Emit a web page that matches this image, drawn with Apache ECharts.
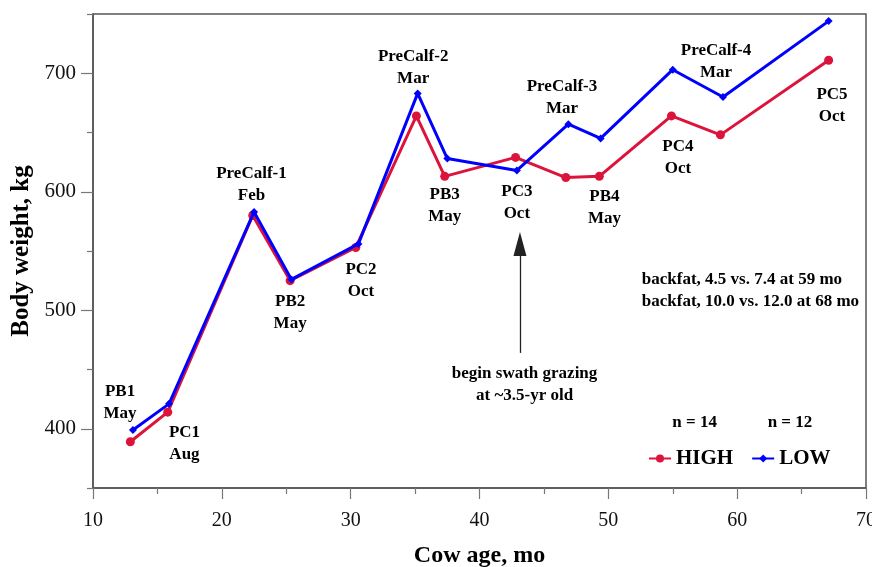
<!DOCTYPE html>
<html>
<head>
<meta charset="utf-8">
<script src="https://cdn.jsdelivr.net/npm/echarts@6/dist/echarts.min.js"></script>
<style>html,body{margin:0;padding:0;background:#fff;}#c{width:872px;height:567px;}</style>
</head>
<body>
<div id="c"></div>
<script>
// ---- data ----
const ageHigh = [12.9, 15.8, 22.4, 25.3, 30.4, 35.1, 37.3, 42.8, 46.7, 49.3, 54.9, 58.7, 67.1];
const wtHigh  = [389, 414, 580, 525, 553, 664, 613, 629, 612, 613, 664, 648, 711];
const ageLow  = [13.1, 15.9, 22.5, 25.4, 30.6, 35.2, 37.5, 42.9, 46.9, 49.4, 55.0, 58.9, 67.1];
const wtLow   = [399, 421, 583, 526, 556, 683, 628, 618, 657, 645, 703, 680, 744];
const xMajorTicks = [10, 20, 30, 40, 50, 60, 70];
const xMinorTicks = [15, 25, 35, 45, 55, 65];
const yMajorTicks = [400, 500, 600, 700];
const yMinorTicks = [350, 450, 550, 650, 750];
// event labels: [age, weight, text]
const eventLabels = [
  [12.1, 422, 'PB1\nMay'],
  [17.1, 387.6, 'PC1\nAug'],
  [22.3, 606, 'PreCalf-1\nFeb'],
  [25.3, 498, 'PB2\nMay'],
  [30.8, 525, 'PC2\nOct'],
  [34.85, 704.7, 'PreCalf-2\nMar'],
  [37.3, 588, 'PB3\nMay'],
  [42.9, 590.7, 'PC3\nOct'],
  [46.4, 679.5, 'PreCalf-3\nMar'],
  [49.7, 587, 'PB4\nMay'],
  [55.4, 628.6, 'PC4\nOct'],
  [58.36, 710, 'PreCalf-4\nMar'],
  [67.36, 673, 'PC5\nOct']
];
const noteCenter = [
  [43.5, 437, 'begin swath grazing\nat ~3.5-yr old'],
  [56.7, 405.5, 'n = 14'],
  [64.1, 405.5, 'n = 12']
];
const noteLeft = [
  [52.6, 525.6, 'backfat, 4.5 vs. 7.4 at 59 mo'],
  [52.6, 507.3, 'backfat, 10.0 vs. 12.0 at 68 mo']
];
const arrowX = 43.14, arrowFrom = 464, arrowTo = 556;

const serif = '"Liberation Serif","Times New Roman",serif';
const red = '#dc143c', blue = '#0000ff';

const chart = echarts.init(document.getElementById('c'));
const axisBase = (min, max) => ({
  type: 'value', min: min, max: max, splitLine: {show: false}
});
const txt = (size, align) => ({
  show: true, position: 'inside', formatter: p => p.data[2],
  fontFamily: serif, fontWeight: 'bold', fontSize: size, lineHeight: 22,
  color: '#000', opacity: 1, align: align
});
chart.setOption({
  animation: false,
  grid: {left: 93, right: 6, top: 14, bottom: 79, show: true, borderColor: '#555', borderWidth: 1.5,
    containLabel: false, outerBoundsMode: 'none'},
  xAxis: [
    Object.assign(axisBase(10, 70), {
      interval: 10,
      name: 'Cow age, mo', nameLocation: 'middle', nameGap: 56,
      nameTextStyle: {fontFamily: serif, fontWeight: 'bold', fontSize: 24, color: '#000'},
      axisLine: {lineStyle: {color: '#555', width: 1.5}},
      axisTick: {length: 11, customValues: xMajorTicks, lineStyle: {color: '#777', width: 1.2}},
      axisLabel: {customValues: xMajorTicks, fontFamily: serif, fontSize: 20, color: '#111', margin: 23}
    }),
    Object.assign(axisBase(10, 70), {
      interval: 10, position: 'bottom',
      axisLine: {show: false},
      axisTick: {length: 6, customValues: xMinorTicks, lineStyle: {color: '#777', width: 1.2}},
      axisLabel: {show: false}
    })
  ],
  yAxis: [
    Object.assign(axisBase(350, 750), {
      interval: 50,
      name: 'Body weight, kg', nameLocation: 'middle', nameGap: 51,
      nameTextStyle: {fontFamily: serif, fontWeight: 'bold', fontSize: 25, color: '#000'},
      axisLine: {show: true, lineStyle: {color: '#555', width: 1.5}},
      axisTick: {show: true, length: 12, customValues: yMajorTicks, lineStyle: {color: '#777', width: 1.2}},
      axisLabel: {customValues: yMajorTicks, fontFamily: serif, fontSize: 21, color: '#111', margin: 17}
    }),
    Object.assign(axisBase(350, 750), {
      interval: 50, position: 'left',
      axisLine: {show: false},
      axisTick: {show: true, length: 6, customValues: yMinorTicks, lineStyle: {color: '#777', width: 1.2}},
      axisLabel: {show: false}
    })
  ],
  legend: {
    data: ['HIGH', 'LOW'], left: 643, top: 443, itemWidth: 22, itemHeight: 10, itemGap: 18,
    textStyle: {fontFamily: serif, fontWeight: 'bold', fontSize: 21, color: '#000'}
  },
  series: [
    {
      name: 'HIGH', type: 'line', data: ageHigh.map((a, i) => [a, wtHigh[i]]),
      symbol: 'circle', symbolSize: 9, lineStyle: {color: red, width: 3}, itemStyle: {color: red},
      z: 2
    },
    {
      name: 'LOW', type: 'line', data: ageLow.map((a, i) => [a, wtLow[i]]),
      symbol: 'diamond', symbolSize: 8, lineStyle: {color: blue, width: 3}, itemStyle: {color: blue},
      z: 3
    },
    {
      type: 'scatter', data: eventLabels, symbolSize: 0, silent: true, itemStyle: {opacity: 1},
      label: txt(17, 'center'),
      markLine: {
        silent: true, symbol: ['none', 'triangle'], symbolSize: [13, 24],
        lineStyle: {color: '#222', width: 1.3, type: 'solid'}, label: {show: false},
        data: [[{coord: [arrowX, arrowFrom]}, {coord: [arrowX, arrowTo]}]]
      }
    },
    {
      type: 'scatter', data: noteCenter, symbolSize: 0, silent: true, itemStyle: {opacity: 1},
      label: txt(17, 'center')
    },
    {
      type: 'scatter', data: noteLeft, symbolSize: 0, silent: true, itemStyle: {opacity: 1},
      label: txt(17, 'left')
    }
  ]
});
</script>
</body>
</html>
